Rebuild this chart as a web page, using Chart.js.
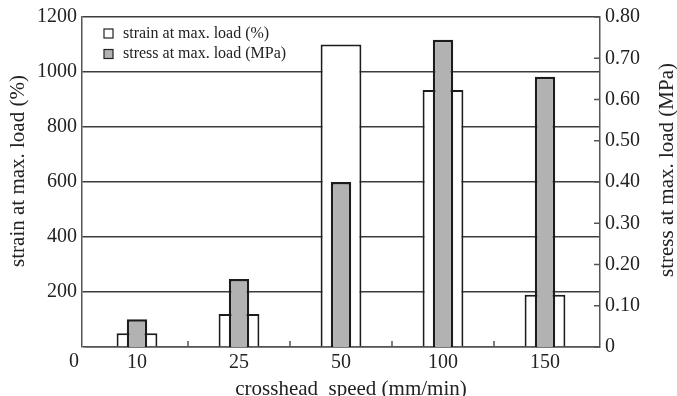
<!DOCTYPE html>
<html>
<head>
<meta charset="utf-8">
<script src="https://cdn.jsdelivr.net/npm/chart.js@4/dist/chart.umd.min.js"></script>
<style>
  html, body { margin: 0; padding: 0; background: #fff; }
  #wrap { width: 677px; height: 396px; }
</style>
</head>
<body>
<div id="wrap"><canvas id="c" width="677" height="396"></canvas></div>
<script>
// Crosshead speed categories (mm/min)
const categories = ['10', '25', '50', '100', '150'];
// Strain at max. load (%)
const strainValues = [50, 120, 1100, 935, 190];
// Stress at max. load (MPa)
const stressValues = [0.067, 0.165, 0.40, 0.745, 0.655];

const strainLabel = 'strain at max. load (%)';
const stressLabel = 'stress at max. load (MPa)';
const xTitle = 'crosshead  speed (mm/min)';

const SERIF = '"Liberation Serif", "DejaVu Serif", serif';
const INK = '#222222';
const GREY = '#b2b2b2';

// Category band sits slightly inside the plot frame
const insetX = {
  id: 'insetX',
  afterLayout(chart) {
    const xs = chart.scales.x;
    xs.left += 4;
    xs.right -= 4;
    xs.width = xs.right - xs.left;
    xs.configure();
  }
};

// Extra drawing: inward tick marks, the origin "0", axis titles and legend
const decorations = {
  id: 'decorations',
  afterDatasetsDraw(chart) {
    const ctx = chart.ctx;
    const area = chart.chartArea;
    const xs = chart.scales.x;
    const yr = chart.scales.y1;
    ctx.save();
    ctx.strokeStyle = '#555';
    ctx.lineWidth = 1.5;
    // right axis ticks pointing into the plot
    yr.ticks.forEach(t => {
      const py = yr.getPixelForValue(t.value);
      ctx.beginPath();
      ctx.moveTo(area.right - 6, py);
      ctx.lineTo(area.right, py);
      ctx.stroke();
    });
    // bottom ticks between categories
    for (let i = 0; i < categories.length - 1; i++) {
      const px = (xs.getPixelForValue(i) + xs.getPixelForValue(i + 1)) / 2;
      ctx.beginPath();
      ctx.moveTo(px, area.bottom);
      ctx.lineTo(px, area.bottom - 6);
      ctx.stroke();
    }
    ctx.restore();
  },
  afterDraw(chart) {
    const ctx = chart.ctx;
    const area = chart.chartArea;
    ctx.save();
    ctx.fillStyle = INK;
    ctx.font = '20px ' + SERIF;
    ctx.textAlign = 'center';
    ctx.textBaseline = 'middle';
    // origin label under the left axis
    ctx.fillText('0', area.left - 8, area.bottom + 15);

    // axis titles
    ctx.font = '21px ' + SERIF;
    ctx.textBaseline = 'alphabetic';
    ctx.fillText(xTitle, 351, 395);
    ctx.textBaseline = 'middle';
    ctx.save();
    ctx.translate(18, 171);
    ctx.rotate(-Math.PI / 2);
    ctx.fillText(strainLabel, 0, 0);
    ctx.restore();
    ctx.save();
    ctx.translate(667, 170);
    ctx.rotate(-Math.PI / 2);
    ctx.fillText(stressLabel, 0, 0);
    ctx.restore();

    // legend
    const items = [
      { text: strainLabel, fill: '#ffffff', y: 33.5 },
      { text: stressLabel, fill: GREY, y: 54 }
    ];
    ctx.font = '16px ' + SERIF;
    ctx.textAlign = 'left';
    items.forEach(it => {
      ctx.fillStyle = it.fill;
      ctx.fillRect(104, it.y - 4.5, 9, 9);
      ctx.strokeStyle = '#222';
      ctx.lineWidth = 1.2;
      ctx.strokeRect(104, it.y - 4.5, 9, 9);
      ctx.fillStyle = INK;
      ctx.fillText(it.text, 123, it.y);
    });
    ctx.restore();
  }
};

new Chart(document.getElementById('c'), {
  type: 'bar',
  data: {
    labels: categories,
    datasets: [
      {
        label: strainLabel,
        data: strainValues,
        yAxisID: 'y',
        backgroundColor: '#ffffff',
        borderColor: '#1c1c1c',
        borderWidth: 2,
        borderSkipped: 'bottom',
        categoryPercentage: 1.0,
        barPercentage: 0.4,
        order: 2
      },
      {
        label: stressLabel,
        data: stressValues,
        yAxisID: 'y1',
        backgroundColor: GREY,
        borderColor: '#1c1c1c',
        borderWidth: 2.5,
        borderSkipped: 'bottom',
        categoryPercentage: 1.0,
        barPercentage: 0.2,
        order: 1
      }
    ]
  },
  options: {
    responsive: false,
    animation: false,
    devicePixelRatio: 1,
    layout: { padding: { top: 15, left: 0, right: 0, bottom: 0 } },
    plugins: {
      legend: { display: false },
      tooltip: { enabled: false }
    },
    datasets: { bar: { grouped: false } },
    scales: {
      x: {
        type: 'category',
        grid: { display: false, drawTicks: false },
        border: { display: true, color: '#555', width: 1.5 },
        ticks: {
          color: INK,
          font: { family: SERIF, size: 20 },
          padding: 4,
          maxRotation: 0
        },
        afterFit(s) { s.height = 49; }
      },
      y: {
        position: 'left',
        min: 0,
        max: 1200,
        grid: { color: '#3c3c3c', lineWidth: 1.5, drawTicks: false },
        border: { display: true, color: '#555', width: 1.5 },
        ticks: {
          stepSize: 200,
          color: INK,
          font: { family: SERIF, size: 20 },
          padding: 5,
          callback: v => (v === 0 ? '' : String(v))
        },
        afterFit(s) { s.width = 82; }
      },
      y1: {
        position: 'right',
        min: 0,
        max: 0.8,
        grid: { display: false, drawTicks: false },
        border: { display: true, color: '#555', width: 1.5 },
        ticks: {
          stepSize: 0.1,
          color: INK,
          font: { family: SERIF, size: 20 },
          padding: 5,
          callback: v => (Math.abs(v) < 1e-9 ? '0' : Number(v).toFixed(2))
        },
        afterFit(s) { s.width = 77; }
      }
    }
  },
  plugins: [insetX, decorations]
});
</script>
</body>
</html>
